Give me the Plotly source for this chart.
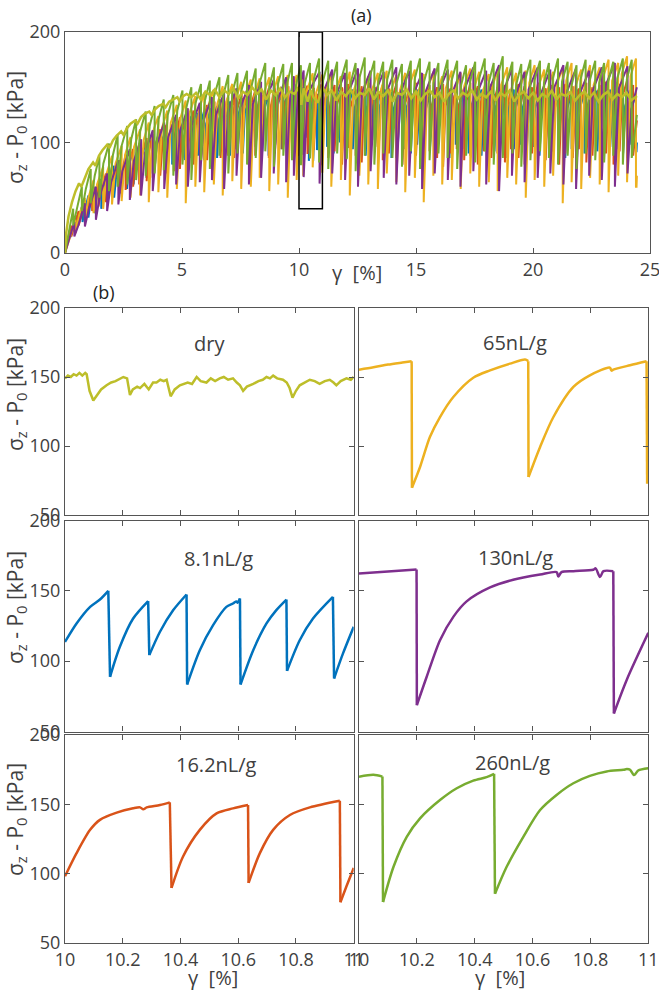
import plotly.graph_objects as go

# ---------------- DATA ----------------
# Panel (a): stick-slip events per sample, (gamma %, peak before drop kPa, minimum after drop kPa)
ev_81 = [(0.22,22,14),(0.48,34,22),(0.75,44,28),(1.00,52,32),(1.28,60,36),(1.55,67,40),(1.83,73,46),
         (2.10,79,50),(2.38,84,54),(2.65,89,58),(2.93,94,62),(3.20,98,66),(3.48,102,68),(3.75,106,72),
         (4.03,110,74),(4.30,113,78),(4.58,116,80),(4.85,119,82),(5.13,122,84),(5.40,124,86),(5.68,127,88),
         (5.95,129,84),(6.23,131,90),(6.50,133,86),(6.78,135,92),(7.05,137,88),(7.33,138,94),(7.60,140,90),
         (7.88,141,86),(8.15,142,96),(8.43,143,92),(8.70,144,88),(8.98,145,98),(9.25,146,94),(9.53,146,90),
         (9.80,147,100),(10.150,150,88.9),(10.288,142.7,104.3),(10.421,147.4,83.4),(10.606,144.5,83.4),
         (10.767,143.8,93.1),(10.928,145.7,87.7),(11.20,146,96),(11.48,144,90),(11.75,147,100),(12.03,145,86),
         (12.30,148,94),(12.58,146,98),(12.85,144,88),(13.13,147,102),(13.40,145,92),(13.68,148,96),
         (13.95,146,86),(14.23,144,100),(14.50,147,94),(14.78,145,90),(15.05,148,98),(15.33,146,88),
         (15.60,144,96),(15.88,147,102),(16.15,145,92),(16.43,148,86),(16.70,146,98),(16.98,144,94),
         (17.25,147,90),(17.53,145,100),(17.80,148,88),(18.08,146,96),(18.35,144,92),(18.63,147,102),
         (18.90,145,86),(19.18,148,94),(19.45,146,98),(19.73,144,90),(20.00,147,96),(20.28,145,88),
         (20.55,148,100),(20.83,146,92),(21.10,144,96),(21.38,147,86),(21.65,145,94),(21.93,148,98),
         (22.20,146,90),(22.48,144,100),(22.75,147,92),(23.03,145,88),(23.30,148,96),(23.58,146,94),
         (23.85,144,90),(24.13,147,98),(24.40,145,92)]
end_81 = (24.44, 100)

ev_162 = [(0.27,25,15),(0.58,38,25),(0.85,48,32),(1.16,57,38),(1.43,65,42),(1.75,72,46),(2.01,78,50),
          (2.33,84,54),(2.59,89,57),(2.91,94,60),(3.17,99,62),(3.49,104,65),(3.75,108,68),(4.07,112,70),
          (4.33,116,72),(4.65,120,74),(4.91,123,76),(5.23,126,78),(5.49,129,80),(5.81,132,82),(6.07,134,84),
          (6.39,137,85),(6.65,139,86),(6.97,141,88),(7.23,143,86),(7.55,144,90),(7.81,146,84),(8.13,147,88),
          (8.39,148,92),(8.71,149,86),(8.97,150,90),(9.29,150,94),(9.55,151,88),(9.96,150,88),
          (10.363,151.4,89.7),(10.634,149.5,93.3),(10.952,152.6,79.4),(11.25,149,86),(11.52,152,92),
          (11.84,150,80),(12.10,153,95),(12.42,148,88),(12.68,151,82),(13.00,154,90),(13.26,150,96),
          (13.58,152,84),(13.84,149,90),(14.16,153,86),(14.42,151,80),(14.74,150,94),(15.00,154,88),
          (15.32,148,82),(15.58,152,92),(15.90,150,86),(16.16,153,78),(16.48,149,90),(16.74,152,94),
          (17.06,150,84),(17.32,154,88),(17.64,151,80),(17.90,149,92),(18.22,153,86),(18.48,150,90),
          (18.80,152,82),(19.06,148,94),(19.38,153,86),(19.64,151,80),(19.96,150,90),(20.22,154,88),
          (20.54,149,84),(20.80,152,92),(21.12,150,80),(21.38,153,90),(21.70,151,86),(21.96,149,94),
          (22.28,154,82),(22.54,150,88),(22.86,152,84),(23.12,155,90),(23.44,151,80),(23.70,153,92),
          (24.02,156,86),(24.28,152,88)]
end_162 = (24.44, 120)

ev_65 = [(0.45,30,18),(0.85,50,28),(1.22,66,36),(1.63,78,40),(2.01,88,44),(2.42,97,47),(2.80,105,50),
         (3.21,112,52),(3.58,118,46),(3.99,124,55),(4.37,129,50),(4.78,134,58),(5.16,138,45),(5.57,142,60),
         (5.95,145,55),(6.36,148,62),(6.74,151,52),(7.15,153,65),(7.53,155,58),(7.94,157,60),(8.32,158,68),
         (8.73,159,56),(9.11,160,62),(9.52,161,50),(9.90,161,66),(10.182,161.4,69.8),(10.585,162.6,77.5),
         (10.996,161.4,72.7),(11.38,163,60),(11.79,160,66),(12.17,164,52),(12.58,162,70),(12.96,160,62),
         (13.37,163,58),(13.75,165,72),(14.16,161,64),(14.54,163,55),(14.95,166,68),(15.33,162,46),
         (15.74,164,70),(16.12,160,62),(16.53,165,66),(16.91,163,58),(17.32,167,72),(17.70,164,60),
         (18.11,162,64),(18.49,166,56),(18.90,168,68),(19.28,163,62),(19.69,165,50),(20.07,170,66),
         (20.48,166,60),(20.86,164,70),(21.27,168,45),(21.65,172,64),(22.06,166,58),(22.44,170,68),
         (22.85,168,62),(23.23,175,55),(23.64,172,70),(24.02,178,64),(24.40,176,60)]
end_65 = (24.44, 70)

ev_130 = [(0.40,28,15),(0.85,45,24),(1.32,60,30),(1.80,72,38),(2.28,84,44),(2.77,94,48),(3.25,103,52),
          (3.75,111,56),(4.24,118,58),(4.75,125,62),(5.25,131,60),(5.76,136,64),(6.28,141,66),(6.80,145,58),
          (7.33,149,70),(7.86,152,62),(8.38,155,68),(8.92,157,72),(9.45,159,64),(9.78,160,70),
          (10.199,165.2,68.7),(10.879,164,62.8),(11.42,166,72),(11.97,163,66),(12.52,167,60),(13.06,165,74),
          (13.62,164,68),(14.16,168,62),(14.71,165,70),(15.26,163,58),(15.80,167,72),(16.36,166,66),
          (16.90,164,60),(17.45,168,74),(18.00,165,62),(18.55,170,56),(19.10,166,70),(19.64,164,64),
          (20.20,168,68),(20.74,166,72),(21.30,170,62),(21.84,167,58),(22.40,165,70),(22.94,168,66),
          (23.50,172,60),(24.04,169,72)]
end_130 = (24.44, 150)

ev_260 = [(0.35,40,25),(0.72,60,38),(1.10,76,45),(1.47,88,50),(1.88,99,56),(2.25,107,60),(2.66,115,62),
          (3.04,121,66),(3.45,128,70),(3.83,133,72),(4.22,139,75),(4.63,143,70),(5.02,147,80),(5.40,150,66),
          (5.81,153,84),(6.19,156,76),(6.60,159,88),(6.98,161,72),(7.37,163,90),(7.78,165,80),(8.15,167,86),
          (8.56,172,92),(8.93,168,78),(9.33,171,88),(9.70,172,84),(10.081,170,79.5),(10.470,172,85.5),
          (10.86,176,82),(11.25,174,76),(11.63,173,90),(12.04,175,85),(12.42,172,74),(12.81,177,88),
          (13.22,174,80),(13.60,173,90),(13.99,175,86),(14.40,171,78),(14.78,174,92),(15.17,176,76),
          (15.58,173,84),(15.96,172,90),(16.35,175,86),(16.76,174,76),(17.14,170,88),(17.53,173,82),
          (17.94,176,92),(18.32,172,80),(18.71,178,86),(19.12,173,90),(19.50,171,78),(19.89,175,84),
          (20.30,174,92),(20.68,172,86),(21.07,176,80),(21.48,173,88),(21.86,170,76),(22.25,175,90),
          (22.66,174,84),(23.04,172,82),(23.43,173,88),(23.84,176,80),(24.22,175,86)]
end_260 = (24.44, 125)

# recovery after a drop: (gamma span to reach the plateau %, kPa still below next peak)
rec_81 = (0.09, 14)
rec_162 = (0.10, 16)
rec_65 = (0.15, 16)
rec_130 = (0.17, 20)
rec_260 = (0.17, 18)

dry_top = [(0,0),(0.05,18),(0.15,33),(0.3,46),(0.45,56),(0.6,63),(0.7,60),(0.85,68),(1.0,76),(1.2,82),
           (1.3,79),(1.45,88),(1.6,93),(1.8,98),(1.9,95),(2.05,102),(2.2,106),(2.4,110),(2.5,107),(2.65,113),
           (2.8,117),(3.0,120),(3.1,117),(3.25,123),(3.4,126),(3.6,128),(3.7,125),(3.85,130),(4.0,133),
           (4.2,135),(4.3,132),(4.45,137),(4.6,139),(4.8,141),(4.9,137),(5.05,142),(5.2,144),(5.4,141),
           (5.6,145),(5.8,139),(6.0,146),(6.2,143),(6.4,148),(6.6,141),(6.8,147),(7.0,144),(7.2,149),
           (7.4,140),(7.6,146),(7.8,143),(8.0,150),(8.2,144),(8.4,148),(8.6,139),(8.8,147),(9.0,143),
           (9.2,149),(9.4,141),(9.6,146),(9.8,144),(10.0,150),(10.1,134),(10.2,149),(10.37,137),(10.5,147),
           (10.62,141),(10.8,136),(11.0,150),(11.2,143),(11.4,147),(11.6,138),(11.8,146),(12.0,142),
           (12.2,148),(12.4,140),(12.6,145),(12.8,143),(13.0,149),(13.2,139),(13.4,146),(13.6,142),
           (13.8,147),(14.0,137),(14.2,145),(14.4,143),(14.6,148),(14.8,140),(15.0,146),(15.2,138),
           (15.4,144),(15.6,147),(15.8,141),(16.0,145),(16.2,137),(16.4,144),(16.6,147),(16.8,140),
           (17.0,145),(17.2,142),(17.4,147),(17.6,139),(17.8,144),(18.0,141),(18.2,146),(18.4,138),
           (18.6,145),(18.8,142),(19.0,147),(19.2,137),(19.4,143),(19.6,146),(19.8,140),(20.0,145),
           (20.2,138),(20.4,144),(20.6,141),(20.8,147),(21.0,139),(21.2,144),(21.4,142),(21.6,146),
           (21.8,138),(22.0,143),(22.2,146),(22.4,140),(22.6,145),(22.8,137),(23.0,143),(23.2,146),
           (23.4,139),(23.6,144),(23.8,141),(24.0,145),(24.2,138),(24.44,142)]

# Panel (b): detail 10-11 %, (gamma %, kPa)
det_dry = [(10.000,149),(10.010,151),(10.020,150),(10.030,152),(10.040,151),(10.050,153),(10.060,151),
           (10.070,153),(10.075,152),(10.085,140),(10.098,133),(10.110,137),(10.125,141),(10.144,144),
           (10.160,146),(10.175,147),(10.190,149),(10.202,150),(10.215,149),(10.225,137),(10.235,141),
           (10.250,143),(10.260,142),(10.275,145),(10.290,141),(10.305,146),(10.317,146),(10.330,148),
           (10.342,147),(10.352,148),(10.366,136),(10.380,141),(10.398,144),(10.410,145),(10.425,146),
           (10.440,145),(10.456,150),(10.470,147),(10.490,146),(10.505,149),(10.520,147),(10.536,149),
           (10.550,150),(10.565,148),(10.582,149),(10.595,146),(10.606,144),(10.617,140),(10.630,143),
           (10.652,145),(10.670,147),(10.685,148),(10.698,150),(10.710,149),(10.721,151),(10.735,149),
           (10.755,148),(10.768,146),(10.778,142),(10.788,135),(10.800,140),(10.813,144),(10.830,146),
           (10.848,148),(10.865,147),(10.882,145),(10.900,147),(10.917,148),(10.930,146),(10.940,144),
           (10.955,147),(10.975,149),(10.990,148),(11.000,150)]
det_65 = [(10.000,155.3),(10.05,157),(10.10,159),(10.15,160.5),(10.182,161.4),(10.183,69.8),(10.211,84.8),
          (10.245,106.5),(10.280,121),(10.326,135.5),(10.395,149.5),(10.453,154.8),(10.522,159.7),
          (10.574,162.6),(10.585,161.5),(10.586,77.5),(10.626,99.3),(10.672,121),(10.741,142.8),
          (10.798,151.2),(10.867,156.8),(10.873,154.6),(10.879,155.3),(10.937,158.5),(10.994,161.4),
          (10.996,72.7)]
det_81 = [(10.000,113.7),(10.040,126.8),(10.087,138.6),(10.121,143.8),(10.150,150),(10.156,88.9),
          (10.190,110.2),(10.236,130.3),(10.288,142.7),(10.292,104.3),(10.329,120.9),(10.375,136.3),
          (10.421,147.4),(10.423,83.4),(10.467,107.8),(10.513,125.6),(10.559,138.6),(10.582,141),
          (10.594,142.5),(10.598,141.5),(10.606,144.5),(10.608,83.4),(10.652,107.8),(10.698,126.8),
          (10.732,136.3),(10.767,143.8),(10.769,93.1),(10.813,114.9),(10.859,130.3),(10.928,145.7),
          (10.932,87.7),(10.963,105.5),(11.000,124.4)]
det_130 = [(10.000,162.3),(10.10,163.8),(10.199,165.2),(10.200,68.7),(10.234,88.9),(10.280,114.9),
           (10.326,131.5),(10.372,142.5),(10.453,152.4),(10.533,157.9),(10.626,161.6),(10.683,163.3),
           (10.689,160.2),(10.700,163.3),(10.741,164),(10.810,165),(10.818,166),(10.833,159.8),
           (10.845,164),(10.879,164),(10.881,62.8),(10.925,86.5),(11.000,120.1)]
det_162 = [(10.000,98.1),(10.040,114.8),(10.087,131.6),(10.121,138.8),(10.179,144),(10.236,147.1),
           (10.260,147.8),(10.271,146.4),(10.283,147.8),(10.329,149.5),(10.363,151.4),(10.369,89.7),
           (10.409,112.4),(10.467,131.6),(10.525,143.5),(10.582,147.1),(10.634,149.5),(10.636,93.3),
           (10.675,114.8),(10.721,131.6),(10.779,142.3),(10.848,147.8),(10.952,152.6),(10.954,79.4),
           (10.975,90.9),(11.000,104.1)]
det_260 = [(10.000,169.9),(10.050,171.3),(10.081,170),(10.083,79.5),(10.119,104.8),(10.165,126.6),
           (10.211,139.9),(10.280,153.1),(10.338,161.6),(10.395,167.1),(10.441,169.6),(10.467,172),
           (10.470,85.5),(10.510,104.8),(10.568,126.6),(10.626,145.9),(10.683,156.8),(10.741,165.2),
           (10.798,170.5),(10.856,173.7),(10.914,174.9),(10.926,175.4),(10.937,174.9),(10.949,171.3),
           (10.954,171.5),(10.965,174.4),(11.000,176)]

labels = ["dry", "8.1nL/g", "16.2nL/g", "65nL/g", "130nL/g", "260nL/g"]
x_ticks_top = [0, 5, 10, 15, 20, 25]
y_ticks_top = [0, 100, 200]
x_ticks_det = [10, 10.2, 10.4, 10.6, 10.8, 11]
x_ticktext_det = ["10", "10.2", "10.4", "10.6", "10.8", "11"]
y_ticks_det = [50, 100, 150, 200]

# ---------------- STYLE ----------------
C = {"dry": "#BDBE2A", "8.1": "#0072BD", "16.2": "#D95319", "65": "#EDB120",
     "130": "#7E2F8E", "260": "#77AC30"}
FONT = "Open Sans"
TXT = "#404040"
W, H = 659, 995
def fx(p): return p / W
def fy(p): return 1 - p / H

fig = go.Figure()

def top_trace(ev, end, rec, col):
    span, below = rec
    xs, ys = [0], [0]
    nxt = ev[1:] + [(end[0], end[1], None)]
    for (x, pk, mn), (xn, pkn, _) in zip(ev, nxt):
        xs += [x, x]
        ys += [pk, mn]
        s = min(span, 0.6 * (xn - x))
        xs.append(x + s)
        ys.append(max(mn, pkn - below))
    xs.append(end[0]); ys.append(end[1])
    fig.add_trace(go.Scatter(x=xs, y=ys, mode="lines", line=dict(color=col, width=2),
                             xaxis="x", yaxis="y", showlegend=False, hoverinfo="skip"))

top_trace(ev_81, end_81, rec_81, C["8.1"])
top_trace(ev_162, end_162, rec_162, C["16.2"])
top_trace(ev_65, end_65, rec_65, C["65"])
top_trace(ev_130, end_130, rec_130, C["130"])
top_trace(ev_260, end_260, rec_260, C["260"])
fig.add_trace(go.Scatter(x=[p[0] for p in dry_top], y=[p[1] for p in dry_top], mode="lines",
                         line=dict(color=C["dry"], width=2.5), xaxis="x", yaxis="y",
                         showlegend=False, hoverinfo="skip"))

def detail_traces(data, i, col, smooth):
    if not smooth:
        fig.add_trace(go.Scatter(x=[p[0] for p in data], y=[p[1] for p in data], mode="lines",
                                 line=dict(color=col, width=2.5), xaxis=f"x{i}", yaxis=f"y{i}",
                                 showlegend=False, hoverinfo="skip"))
        return
    segx, segy, dx, dy = [], [], [], []
    for a, b in zip(data[:-1], data[1:]):
        if b[1] < a[1] - 15:
            dx += [a[0], b[0], None]
            dy += [a[1], b[1], None]
            segx.append(None); segy.append(None)
        else:
            if not segx or segx[-1] is None:
                segx.append(a[0]); segy.append(a[1])
            segx.append(b[0]); segy.append(b[1])
    fig.add_trace(go.Scatter(x=segx, y=segy, mode="lines",
                             line=dict(color=col, width=2.5, shape="spline", smoothing=0.8),
                             connectgaps=False, xaxis=f"x{i}", yaxis=f"y{i}", showlegend=False,
                             hoverinfo="skip"))
    fig.add_trace(go.Scatter(x=dx, y=dy, mode="lines", line=dict(color=col, width=2.5),
                             xaxis=f"x{i}", yaxis=f"y{i}", showlegend=False, hoverinfo="skip"))

panels = [  # (axis index, data, color, label, label x, label y)
    (2, det_dry, C["dry"], labels[0], 10.50, 174),
    (3, det_65, C["65"], labels[3], 10.54, 175),
    (4, det_81, C["8.1"], labels[1], 10.53, 173),
    (5, det_130, C["130"], labels[4], 10.54, 174),
    (6, det_162, C["16.2"], labels[2], 10.525, 179),
    (7, det_260, C["260"], labels[5], 10.53, 180),
]

axis_common = dict(showline=True, linecolor="#555555", linewidth=1.2, mirror="ticks", ticks="inside",
                   ticklen=5, tickcolor="#555555", showgrid=False, zeroline=False, automargin=False,
                   ticklabeloverflow="allow",
                   tickfont=dict(family=FONT, size=18, color=TXT))

layout = dict(width=W, height=H, margin=dict(l=0, r=0, t=0, b=0, pad=0), paper_bgcolor="white",
              plot_bgcolor="white", font=dict(family=FONT, color=TXT), showlegend=False)

layout["xaxis"] = dict(axis_common, domain=[fx(65), fx(650)], range=[0, 25], tickvals=x_ticks_top,
                       anchor="y")
layout["yaxis"] = dict(axis_common, domain=[fy(253), fy(32)], range=[0, 200], tickvals=y_ticks_top,
                       anchor="x")

cols = {0: (65, 353.7), 1: (359, 648.3)}
rows = {0: (308, 515), 1: (520.5, 731.5), 2: (735, 943)}
annotations = []
for k, (i, data, col, lab, lx, ly) in enumerate(panels):
    r, c = divmod(k, 2)
    x0, x1 = cols[c]
    y0, y1 = rows[r]
    layout[f"xaxis{i}"] = dict(axis_common, domain=[fx(x0), fx(x1)], range=[10, 11],
                               tickvals=x_ticks_det, ticktext=x_ticktext_det,
                               showticklabels=(r == 2), anchor=f"y{i}")
    layout[f"yaxis{i}"] = dict(axis_common, domain=[fy(y1), fy(y0)], range=[50, 200],
                               tickvals=y_ticks_det, showticklabels=(c == 0), anchor=f"x{i}")
    detail_traces(data, i, col, smooth=(i != 2))
    annotations.append(dict(x=lx, y=ly, xref=f"x{i}", yref=f"y{i}", text=lab, showarrow=False,
                            font=dict(family=FONT, size=20, color=TXT), xanchor="center",
                            yanchor="middle"))

ylab = "σ<sub>z</sub> - P<sub>0</sub> [kPa]"
for yc in [128, 395, 608, 820]:
    annotations.append(dict(x=fx(16), y=fy(yc), xref="paper", yref="paper", text=ylab, textangle=-90,
                            showarrow=False, font=dict(family=FONT, size=21, color=TXT),
                            xanchor="center", yanchor="middle"))
for (xc, yc) in [(357, 272), (213, 977), (500, 977)]:
    annotations.append(dict(x=fx(xc), y=fy(yc), xref="paper", yref="paper", text="γ  [%]",
                            showarrow=False, font=dict(family=FONT, size=20, color=TXT),
                            xanchor="center", yanchor="middle"))
annotations.append(dict(x=fx(362), y=fy(15), xref="paper", yref="paper", text="(a)", showarrow=False,
                        font=dict(family=FONT, size=18, color="#222222"), xanchor="center",
                        yanchor="middle"))
annotations.append(dict(x=fx(104), y=fy(292), xref="paper", yref="paper", text="(b)", showarrow=False,
                        font=dict(family=FONT, size=18, color="#222222"), xanchor="center",
                        yanchor="middle"))
layout["annotations"] = annotations
layout["shapes"] = [dict(type="rect", xref="x", yref="y", x0=10, x1=11, y0=40, y1=200,
                         line=dict(color="black", width=1.5), fillcolor="rgba(0,0,0,0)")]

fig.update_layout(**layout)

# remove the page's default body margin synchronously (before first layout/screenshot)
page_fix = ("}); document.body.style.margin='0px'; document.body.style.padding='0px'; "
            "document.body.style.overflow='hidden'; (function(){")
fig.write_html("out.html", post_script=page_fix)
